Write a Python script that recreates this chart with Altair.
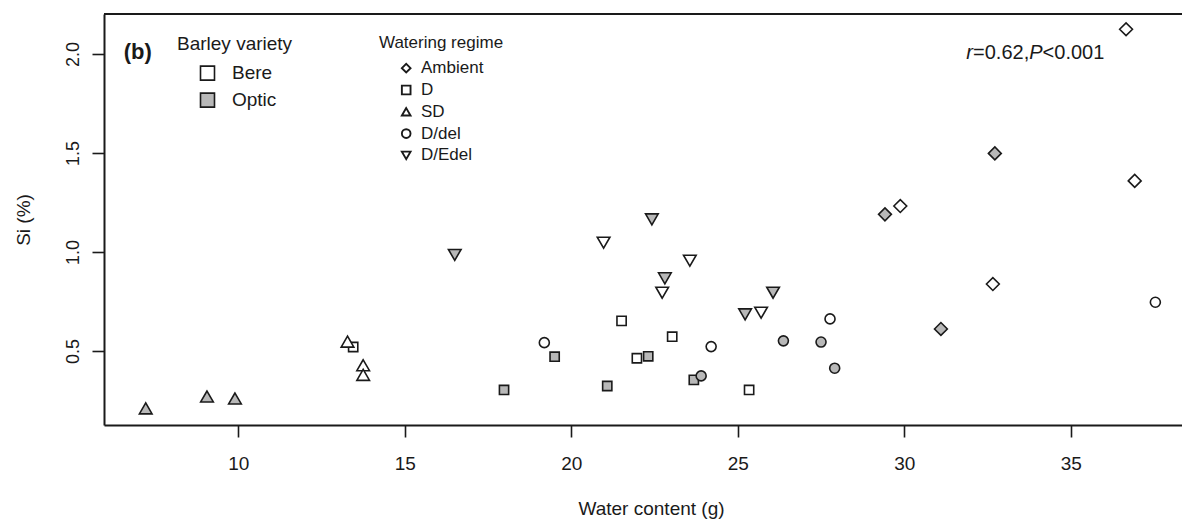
import altair as alt
import pandas as pd

# ---- data ----
variety = ["Optic", "Optic", "Optic", "Bere", "Bere", "Bere",
           "Bere", "Optic", "Optic", "Optic", "Bere", "Bere", "Optic", "Bere", "Optic", "Bere",
           "Bere", "Optic", "Bere", "Optic", "Optic", "Bere", "Optic", "Bere",
           "Optic", "Bere", "Optic", "Optic", "Bere", "Bere", "Optic", "Bere", "Optic",
           "Optic", "Bere", "Optic", "Bere", "Optic", "Bere", "Bere"]
regime = ["SD"] * 6 + ["D"] * 10 + ["D/del"] * 8 + ["D/Edel"] * 9 + ["Ambient"] * 7
water = [7.22, 9.06, 9.90, 13.28, 13.75, 13.75,
         13.45, 17.98, 19.50, 21.08, 21.51, 21.97, 22.31, 23.03, 23.68, 25.34,
         19.19, 23.90, 24.20, 26.37, 27.50, 27.77, 27.91, 37.54,
         16.50, 20.97, 22.42, 22.81, 22.73, 23.56, 25.22, 25.70, 26.06,
         29.42, 29.88, 31.10, 32.66, 32.72, 36.66, 36.92]
si = [0.210, 0.270, 0.260, 0.547, 0.428, 0.379,
      0.520, 0.303, 0.471, 0.323, 0.652, 0.463, 0.473, 0.572, 0.354, 0.303,
      0.542, 0.374, 0.522, 0.551, 0.545, 0.662, 0.413, 0.746,
      0.985, 1.047, 1.165, 0.867, 0.794, 0.956, 0.685, 0.693, 0.794,
      1.190, 1.232, 0.611, 0.838, 1.498, 2.125, 1.359]

varieties = ["Bere", "Optic"]
regimes = ["Ambient", "D", "SD", "D/del", "D/Edel"]
x_ticks = [10, 15, 20, 25, 30, 35]
y_ticks = [0.5, 1.0, 1.5, 2.0]

panel_label = ["(b)"]
panel_pos = [6.56, 2.008]
stat_parts = ["r", "=0.62,", "P", "<0.001"]
stat_pos = [31.86, 2.005]

# ---- styling ----
FONT = "Liberation Sans"
INK = "#1a1a1a"
GREY = "#b8b8b8"
W, H = 1078, 411
X_DOMAIN = [5.967, 38.34]
Y_DOMAIN = [0.126, 2.202]
SHAPES = ["diamond", "square", "triangle-up", "circle", "triangle-down"]
SIZES = [165, 85, 160, 100, 160]

df = pd.DataFrame({"variety": variety, "regime": regime, "water": water, "si": si})

xscale = alt.Scale(domain=X_DOMAIN, nice=False, zero=False)
yscale = alt.Scale(domain=Y_DOMAIN, nice=False, zero=False)

x_enc = alt.X("water:Q", scale=xscale,
              axis=alt.Axis(title="Water content (g)", values=x_ticks, format="d",
                            labelFontSize=19, labelPadding=17, labelBaseline="top",
                            titleFontSize=19, titleX=547, titleY=89,
                            titleBaseline="alphabetic", titleAlign="center"))
y_enc = alt.Y("si:Q", scale=yscale,
              axis=alt.Axis(title="Si (%)", values=y_ticks, format=".1f",
                            labelFontSize=18, labelAngle=270, labelAlign="center",
                            labelBaseline="alphabetic", labelPadding=14,
                            titleFontSize=19, titleAngle=270, titleX=-75, titleY=205.5,
                            titleBaseline="alphabetic", titleAlign="center"))

fill_enc = alt.Fill("variety:N", scale=alt.Scale(domain=varieties, range=["white", GREY]),
                    legend=alt.Legend(title="Barley variety", orient="none", legendX=73, legendY=20.6,
                                      symbolType="square", symbolSize=196,
                                      symbolStrokeColor=INK, symbolStrokeWidth=1.6,
                                      labelFontSize=19, titleFontSize=19,
                                      symbolOffset=21, labelOffset=15, rowPadding=6,
                                      titlePadding=10, padding=0))
shape_enc = alt.Shape("regime:N",
                      scale=alt.Scale(domain=regimes, range=SHAPES),
                      legend=alt.Legend(title="Watering regime", orient="none", legendX=275, legendY=20.7,
                                        symbolSize=75, symbolFillColor="white",
                                        symbolStrokeColor=INK, symbolStrokeWidth=1.9,
                                        labelFontSize=17, titleFontSize=17,
                                        symbolOffset=18.7, labelOffset=6.3, rowPadding=3.8,
                                        titlePadding=8, padding=0))

point_layers = []
for r, s in zip(regimes, SIZES):
    point_layers.append(
        alt.Chart(df).transform_filter(alt.datum.regime == r)
        .mark_point(filled=True, stroke=INK, strokeWidth=1.6, opacity=1, size=s)
        .encode(x=x_enc, y=y_enc, fill=fill_enc, shape=shape_enc))

panel_df = pd.DataFrame({"t": panel_label, "x": [panel_pos[0]], "y": [panel_pos[1]]})
panel = alt.Chart(panel_df).mark_text(font=FONT, fontSize=22, fontWeight="bold", align="left",
                                      baseline="middle", color=INK).encode(
    x=alt.X("x:Q", scale=xscale), y=alt.Y("y:Q", scale=yscale), text="t:N")

offsets = [0, 6.8, 63.0, 76.4]
styles = ["italic", "normal", "italic", "normal"]
stat_layers = []
for part, dx, st in zip(stat_parts, offsets, styles):
    sdf = pd.DataFrame({"t": [part], "x": [stat_pos[0]], "y": [stat_pos[1]]})
    stat_layers.append(
        alt.Chart(sdf).mark_text(font=FONT, fontSize=20, fontStyle=st, align="left",
                                 baseline="middle", dx=dx, color=INK).encode(
            x=alt.X("x:Q", scale=xscale), y=alt.Y("y:Q", scale=yscale), text="t:N"))

top_frame = alt.Chart(pd.DataFrame({"a": [0]})).mark_rule(color=INK, strokeWidth=2).encode(
    x=alt.value(0), x2=alt.value(W), y=alt.value(0))

chart = alt.layer(*point_layers, panel, *stat_layers, top_frame).properties(
    width=W, height=H,
    autosize=alt.AutoSizeParams(type="none"),
    padding={"left": 96, "top": 6, "right": 0, "bottom": 95},
).configure(font=FONT).configure_view(stroke=None).configure_axis(
    grid=False, domainColor=INK, domainWidth=2, tickColor=INK, tickWidth=1.6, tickSize=12,
    labelColor=INK, titleColor=INK, labelFont=FONT, titleFont=FONT, titleFontWeight="normal",
).configure_legend(
    labelFont=FONT, titleFont=FONT, titleFontWeight="normal", labelColor=INK, titleColor=INK,
)

chart.save("out.html", embed_options={"renderer": "svg", "actions": False})
